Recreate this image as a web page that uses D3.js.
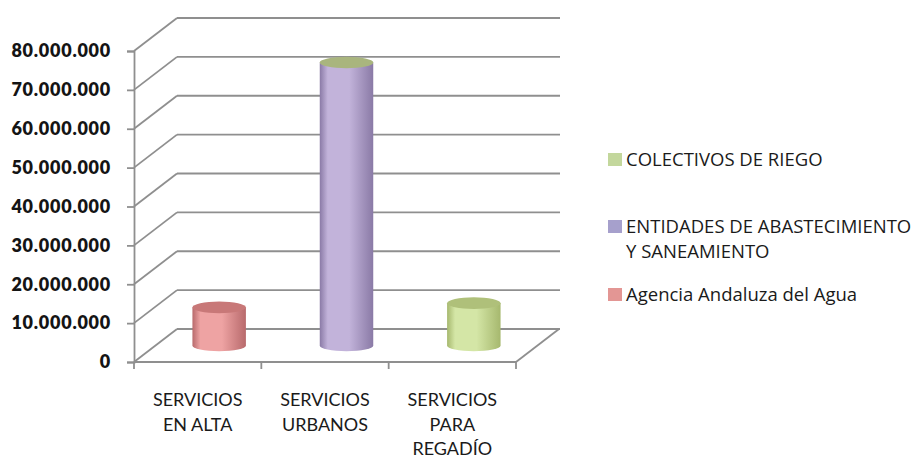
<!DOCTYPE html>
<html>
<head>
<meta charset="utf-8">
<script src="https://cdn.jsdelivr.net/npm/d3@7"></script>
<style>
  html, body { margin: 0; padding: 0; background: #fff; }
  svg { display: block; }
</style>
</head>
<body>
<svg id="chart" width="914" height="459"></svg>
<script>
// ---------- data ----------
const categories = ["SERVICIOS EN ALTA", "SERVICIOS URBANOS", "SERVICIOS PARA REGADÍO"];
const categoryLines = [["SERVICIOS", "EN ALTA"], ["SERVICIOS", "URBANOS"], ["SERVICIOS", "PARA", "REGADÍO"]];
const seriesNames = ["Agencia Andaluza del Agua", "ENTIDADES DE ABASTECIMIENTO Y SANEAMIENTO", "COLECTIVOS DE RIEGO"];
const agenciaValues = [9800000, 0, 0];
const entidadesValues = [0, 72800000, 0];
const colectivosValues = [0, 0, 10900000];
const yTicks = [0, 10000000, 20000000, 30000000, 40000000, 50000000, 60000000, 70000000, 80000000];
const legendOrder = [2, 1, 0];
const legendLines = [["Agencia Andaluza del Agua"], ["ENTIDADES DE ABASTECIMIENTO", "Y SANEAMIENTO"], ["COLECTIVOS DE RIEGO"]];

// ---------- styles ----------
const seriesStyle = [
  { dark: "#b86a6c", light: "#eea3a3", top: "#c87878", legend: "#e39694" },
  { dark: "#8a7aa6", light: "#c2b3da", top: "#a9b57e", legend: "#a6a0cc" },
  { dark: "#a6b86e", light: "#d4e6a6", top: "#afc07a", legend: "#c3d79c" }
];
const allSeries = [agenciaValues, entidadesValues, colectivosValues];

const svg = d3.select("#chart");
const defs = svg.append("defs");

const pL = 134, pR = 516, pB = 362, pT = 51;
const depthX = 43, depthY = -33;

const x = d3.scaleBand().domain(categories).range([pL, pR]).padding(0);
const y = d3.scaleLinear().domain([0, 80000000]).range([pB, pT]);
const loc = d3.formatLocale({ decimal: ",", thousands: ".", grouping: [3], currency: ["", "€"] });
const fmt = loc.format(",d");

const gridColor = "#8f8f8f";
const g = svg.append("g");

// back wall gridlines + left wall diagonals
yTicks.forEach(t => {
  const yy = y(t);
  g.append("line").attr("x1", pL + depthX).attr("x2", pR + depthX + 1)
    .attr("y1", yy + depthY).attr("y2", yy + depthY)
    .attr("stroke", gridColor).attr("stroke-width", 1.8);
  g.append("line").attr("x1", pL).attr("x2", pL + depthX)
    .attr("y1", yy).attr("y2", yy + depthY)
    .attr("stroke", gridColor).attr("stroke-width", 1.8);
});
// floor front & right edges
g.append("line").attr("x1", pL).attr("x2", pR).attr("y1", pB).attr("y2", pB)
  .attr("stroke", gridColor).attr("stroke-width", 1.8);
g.append("line").attr("x1", pR).attr("x2", pR + depthX).attr("y1", pB).attr("y2", pB + depthY)
  .attr("stroke", gridColor).attr("stroke-width", 1.8);

// y axis
const yAxis = d3.axisLeft(y).tickValues(yTicks).tickSize(7).tickPadding(16).tickFormat(fmt);
const ya = svg.append("g").attr("transform", `translate(${pL},0)`).call(yAxis);
ya.select(".domain").attr("stroke", gridColor).attr("stroke-width", 1.8);
ya.selectAll(".tick line").attr("stroke", gridColor).attr("stroke-width", 1.8);
ya.selectAll(".tick text").attr("fill", "#141414")
  .style("font-family", "Lato, 'DejaVu Sans', sans-serif").style("font-weight", "800")
  .style("font-size", "18px").style("letter-spacing", "0.75px");

// x axis ticks
const xTickPos = [...categories.map(c => x(c)), pR];
xTickPos.forEach(px => {
  svg.append("line").attr("x1", px).attr("x2", px).attr("y1", pB).attr("y2", pB + 7)
    .attr("stroke", gridColor).attr("stroke-width", 1.8);
});

// category labels
categories.forEach((c, i) => {
  const t = svg.append("text").attr("x", x(c) + x.bandwidth() / 2).attr("y", 406)
    .attr("text-anchor", "middle").attr("fill", "#1a1a1a")
    .style("font-family", "Lato, 'Open Sans', sans-serif").style("font-size", "18px");
  categoryLines[i].forEach((ln, j) => {
    t.append("tspan").attr("x", x(c) + x.bandwidth() / 2).attr("dy", j === 0 ? 0 : 24.5).text(ln);
  });
});

// cylinders
const rx = x.bandwidth() * 0.21, ry = 5.8;
allSeries.forEach((vals, s) => {
  const st = seriesStyle[s];
  const gid = "grad" + s;
  const gr = defs.append("linearGradient").attr("id", gid).attr("x1", "0").attr("x2", "1").attr("y1", "0").attr("y2", "0");
  gr.append("stop").attr("offset", "0").attr("stop-color", st.dark);
  gr.append("stop").attr("offset", "0.15").attr("stop-color", st.light);
  gr.append("stop").attr("offset", "0.55").attr("stop-color", st.light);
  gr.append("stop").attr("offset", "1").attr("stop-color", st.dark);
  vals.forEach((v, i) => {
    if (!v) return;
    const cx = x(categories[i]) + x.bandwidth() / 2 + depthX / 2;
    const yb = y(0) + depthY / 2;
    const yt = y(v) + depthY / 2;
    const path = `M${cx - rx},${yt} L${cx - rx},${yb} A${rx},${ry} 0 0 0 ${cx + rx},${yb} L${cx + rx},${yt} Z`;
    svg.append("path").attr("d", path).attr("fill", `url(#${gid})`);
    svg.append("ellipse").attr("cx", cx).attr("cy", yt).attr("rx", rx).attr("ry", ry).attr("fill", st.top);
  });
});

// legend
const lg = svg.append("g");
const legendY = [159, 226, 294];
legendOrder.forEach((s, k) => {
  const yy = legendY[k];
  lg.append("rect").attr("x", 608).attr("y", yy - 6).attr("width", 14).attr("height", 13)
    .attr("fill", seriesStyle[s].legend);
  const t = lg.append("text").attr("x", 626).attr("y", yy + 6.6).attr("fill", "#1a1a1a")
    .style("font-family", "'Open Sans', Lato, sans-serif").style("font-size", "18.5px");
  legendLines[s].forEach((ln, j) => {
    t.append("tspan").attr("x", 626).attr("dy", j === 0 ? 0 : 25).text(ln);
  });
});
</script>
</body>
</html>
